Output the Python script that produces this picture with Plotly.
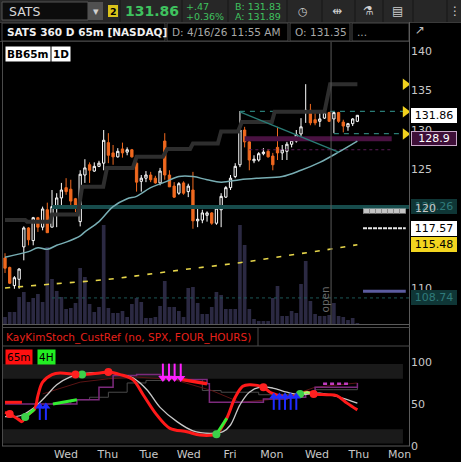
import plotly.graph_objects as go

W, H = 461, 462
def PX(x): return x / W
def PY(y): return 1 - y / H

# ---------------- data ----------------
bars = list(range(76))
opens = [113.8,112.6,110.3,111.1,115.2,117.6,116.0,118.9,117.7,119.9,
         117.7,120.1,121.4,122.7,122.5,121.3,118.4,124.3,125.6,124.8,
         125.4,125.8,128.4,127.1,126.6,127.6,127.2,127.5,125.8,123.5,
         123.9,124.3,123.9,123.3,128.6,124.3,122.9,122.0,123.3,122.2,
         122.4,118.5,118.6,119.2,119.5,118.2,119.9,121.5,122.7,124.1,
         125.6,130.0,128.5,126.1,126.2,127.0,127.3,126.7,127.8,127.1,
         127.3,128.2,128.6,129.5,132.2,132.5,131.3,131.1,131.5,132.2,
         131.4,132.2,131.0,130.4,130.8,131.1]
highs = [114.4,112.7,111.5,112.5,117.8,117.7,119.0,119.0,120.3,120.8,
         122.4,122.0,123.3,123.9,123.7,121.4,124.9,126.3,125.9,125.9,
         126.1,130.0,129.6,128.1,127.7,128.4,127.8,127.6,126.5,124.3,
         124.8,124.7,124.2,125.2,129.6,124.9,123.4,123.4,123.5,123.2,
         124.7,120.1,119.9,119.7,119.6,120.4,122.0,122.9,124.3,125.8,
         132.4,130.4,129.0,126.8,127.2,127.7,127.6,127.1,130.4,128.1,
         128.5,129.1,130.0,131.5,135.8,133.3,132.2,132.3,132.3,132.3,
         132.3,132.3,131.3,130.9,131.5,131.9]
lows = [111.9,110.5,109.9,109.9,113.5,115.4,115.4,117.1,117.3,117.0,
        117.7,117.7,120.1,121.8,120.4,119.6,117.8,123.3,123.3,124.7,
        125.3,124.9,125.8,125.6,126.5,126.5,126.8,126.5,122.2,122.2,
        123.4,123.4,123.2,123.0,123.7,122.8,121.4,121.8,121.8,121.5,
        117.5,117.7,118.2,118.4,118.0,118.0,117.7,121.4,122.4,123.9,
        125.3,127.8,124.9,125.8,126.0,126.8,126.5,124.9,126.2,126.2,
        126.2,127.8,128.4,129.1,130.9,130.6,130.6,130.4,131.4,131.0,
        129.6,130.9,129.7,129.9,130.5,131.0]
closes = [112.5,110.6,111.3,112.4,117.6,116.1,118.9,117.7,120.0,117.0,
          120.3,121.4,122.4,122.2,121.0,120.5,124.4,125.2,124.9,125.4,
          125.8,128.7,126.8,126.6,127.3,127.1,127.5,126.6,123.4,123.9,
          124.3,123.7,123.3,124.8,124.3,122.8,121.5,123.2,122.0,122.9,
          118.5,118.7,119.5,119.5,118.2,120.1,121.6,122.7,123.9,125.4,
          130.0,128.5,126.2,126.3,127.0,127.2,126.6,125.6,127.1,127.5,
          128.2,128.7,129.4,130.4,132.5,130.9,130.9,131.4,132.2,131.1,
          132.2,131.1,130.5,130.8,131.4,131.86]
volume_k = [70,120,120,270,320,220,260,300,220,770,
            450,330,270,150,160,210,560,470,200,120,
            170,990,160,110,110,130,70,200,260,220,
            60,60,70,180,430,170,170,130,70,360,
            370,210,100,100,170,320,290,150,150,150,
            990,790,150,50,30,30,30,260,380,80,
            80,130,110,400,630,230,100,80,80,90,
            210,80,70,40,60,10]

# daily step level (1D band)
step_x = [0,4.3,4.7,9.6,10,15.5,16.4,20.9,21.7,27.2,28,33.6,34.5,39.4,40,45.3,46,49.6,50.4,56.8,57.4,68,69.2,75]
step_y = [118.6,118.6,118.4,118.4,119.3,119.3,122.8,122.8,125.2,125.2,126.6,126.6,127.6,127.6,128.3,128.3,129.8,129.8,131.0,131.0,132.3,132.3,135.8,135.8]
# moving average
ma_x = [0,5,7,9,11,13,16,17,20,23,26,28,31,34,37,40,43,46,50,54,59,63,67,71,75]
ma_y = [113.9,114.6,115.1,114.9,115.4,115.8,116.6,117.1,118.4,120.3,121.3,121.6,122.7,123.4,124.1,124.1,123.7,123.4,123.7,123.9,124.1,124.9,125.9,127.2,128.6]
# long average (yellow dashed)
lma_x = [0,10,22,30,39,50,60,68,75]
lma_y = [110.0,110.5,111.1,111.7,112.4,113.2,114.1,114.8,115.48]
# trendline
trend_x = [50, 71]
trend_y = [132.3, 127.2]
# horizontal levels
lvl_teal = 120.26
lvl_teal2 = 108.74
lvl_res = 132.35
lvl_sup = 129.55
lvl_purple = 128.9
lvl_purple2 = 127.5
lvl_gray = 119.75
lvl_white = 117.57
lvl_blue = 109.6
lvl_yellow = 115.48
last_price = 131.86
alert_levels = [135.8, 132.3, 129.5]
open_bar = 69.4
price_ticks = [110, 115, 120, 125, 130, 135, 140]

# lower study
st_x = [0,1,2.8,3.6,4.3,6.3,7,8,10,11.7,15,16.4,20.2,22,24.5,27.2,29.4,32.3,35.1,38.7,41.5,44.3,45,47.2,49,50.6,52,55,56.4,58.5,60.6,62.8,64.3,65.7,68.5,70.6,72.8,75]
st_y = [40,38,32,29,34.5,44,60,76,85,87,85,85,87,88,85,79,61,37,21,17,13,13,14,33,58,71,73,70,64,60,58,62,64,62,61,60,51,43]
wh_x = [0,3.2,6,9,11,13.8,16.6,21.7,24.5,27.2,30.2,33,36.6,40,43.6,46.4,48,50,52,54.3,57,60,62.8,67,71.3,75]
wh_y = [35,36,45,61,73,82,86,87,85,81,67,46,29,18,15,17,25,49,64,70,69,64,61,63,58,51]
gr_x = [10,14,18,22,26,30,34,38,42,46,50,54,58,62,66,70,75]
gr_y = [50,55,58,64,75,78,79,79,66,64,64,61,61,64,67,67,70]
dr_x = [8,12,16,22,28,36,44,50,56,62,66,75]
dr_y = [62,69,76,80,82,79,66,52,55,62,70,75]
pu_x = [0,10,15.3,20,23,28,33,35.5,37.7,43,43.5,50,55,60,64,66,75]
pu_y = [50,50,55,70,84,85,83,81,79,74,52,52,56,58,62,70,75]
h4_red1 = ([0, 3.6], [52, 52])
h4_green = ([10.2, 12, 15.3], [50, 52, 55])
h4_red2 = ([37.7, 40, 43], [79, 77, 74])
h4_mag = ([67.7, 73], [74, 74])
g_seg = [([4.3, 6.3], [34.5, 44]), ([45, 47.2], [14, 33])]
lg_seg = ([62.8, 64.3, 65.7], [62, 64, 62])
green_dots = ([4.3, 16.4, 45, 62.8], [34.5, 85, 14, 62])
red_dots = ([1, 15, 22, 55, 65.7], [38, 85, 88, 70, 62])
up_arrows_a = [7.4, 8.7]
up_arrows_b = [57.2, 58.4, 59.6, 60.8, 62.0]
dn_arrows = [33.6, 34.9, 36.1, 37.4]
day_pos = [13.0, 21.9, 30.6, 39.1, 47.9, 56.8, 66.4, 75.3, 84.0]
day_lab = ["Wed", "Thu", "Tue", "Wed", "Fri", "Mon", "Wed", "Thu", "Mon"]

# ---------------- figure ----------------
XR = [-0.43, 86.2]
XEND = 86.2
FONT = "DejaVu Sans"
fig = go.Figure()

# volume (base axis)
fig.add_trace(go.Bar(x=bars, y=volume_k, marker=dict(color="#2b2942", line=dict(width=0)),
                     xaxis="x", yaxis="y", hoverinfo="skip"))

def line(x, y, color, width, dash="solid", ax=("x", "y2"), shape="linear", opacity=1):
    fig.add_trace(go.Scatter(x=x, y=y, mode="lines", xaxis=ax[0], yaxis=ax[1], opacity=opacity,
                             line=dict(color=color, width=width, dash=dash, shape=shape),
                             hoverinfo="skip"))

# levels
line([10, XEND], [lvl_teal, lvl_teal], "#174c4c", 4)
line([10, XEND], [lvl_teal2, lvl_teal2], "#1c5656", 1, "3px,3px")
line([51, 82.3], [lvl_purple, lvl_purple], "#4a1242", 5)
line([52, 82.3], [lvl_purple2, lvl_purple2], "#5a1a55", 1, "3px,3px")
line([50, 84.7], [lvl_res, lvl_res], "#2a7c76", 1.2, "5px,5px")
line([70, 84.7], [lvl_sup, lvl_sup], "#2a7c76", 1.2, "5px,5px")
line([76.2, 85.3], [lvl_gray, lvl_gray], "#c4c4c4", 5)
line([76.2, 85.3], [lvl_gray, lvl_gray], "#8a8a8a", 5, "1px,5px")
line([76.2, 85.3], [lvl_white, lvl_white], "#e8e8e8", 2, "4px,1px")
line([76.2, 85.3], [lvl_blue, lvl_blue], "#5c5ca0", 3)
# step / averages
line(step_x, step_y, "#2e2e2e", 4)
line(ma_x, ma_y, "#78aeb4", 1.5, shape="spline")
line(lma_x, lma_y, "#e6d54a", 1.6, "5px,8px", shape="spline")
line(trend_x, trend_y, "#2a7c76", 1.3)
# open marker
line([open_bar, open_bar], [105.44, 141.14], "#5a5a5a", 1)

# candles
fig.add_trace(go.Candlestick(x=bars, open=opens, high=highs, low=lows, close=closes,
                             xaxis="x", yaxis="y2", whiskerwidth=0,
                             increasing=dict(line=dict(color="#ffffff", width=1), fillcolor="#000000"),
                             decreasing=dict(line=dict(color="#f0691f", width=1), fillcolor="#f0691f"),
                             hoverinfo="skip"))
# alert triangles
fig.add_trace(go.Scatter(x=[85.2] * len(alert_levels), y=alert_levels, mode="markers", xaxis="x", yaxis="y2",
                         marker=dict(symbol="triangle-right", size=10, color="#f2d21e"), hoverinfo="skip"))

# lower study
LA = ("x2", "y3")
line(gr_x, gr_y, "#4a4a4a", 1, ax=LA, shape="hv")
line(dr_x, dr_y, "#5a1414", 1, ax=LA)
line(pu_x, pu_y, "#7c2a7c", 1.5, ax=LA, shape="hv")
line(h4_mag[0], h4_mag[1], "#c23cc2", 2.5, "4px,3px", ax=LA)
line(wh_x, wh_y, "#c8c8c8", 1.3, ax=LA, shape="spline")
line(h4_red1[0], h4_red1[1], "#ff1a1a", 3, ax=LA)
line(h4_green[0], h4_green[1], "#33ee33", 3, ax=LA)
line(h4_red2[0], h4_red2[1], "#ff1a1a", 3.5, ax=LA)
line(st_x, st_y, "#ff1a1a", 3, ax=LA, shape="spline")
for sx, sy in g_seg:
    line(sx, sy, "#33ee33", 3, ax=LA)
line(lg_seg[0], lg_seg[1], "#9cff6a", 2.5, ax=LA)
fig.add_trace(go.Scatter(x=green_dots[0], y=green_dots[1], mode="markers", xaxis="x2", yaxis="y3",
                         marker=dict(size=8, color="#3cd04a"), hoverinfo="skip"))
fig.add_trace(go.Scatter(x=red_dots[0], y=red_dots[1], mode="markers", xaxis="x2", yaxis="y3",
                         marker=dict(size=8, color="#ff2020"), hoverinfo="skip"))

def arrows(xs, tail, head, color, sym):
    sx, sy = [], []
    for a in xs:
        sx += [a, a, None]
        sy += [tail, head, None]
    fig.add_trace(go.Scatter(x=sx, y=sy, mode="lines", xaxis="x2", yaxis="y3",
                             line=dict(color=color, width=2), hoverinfo="skip"))
    fig.add_trace(go.Scatter(x=xs, y=[head] * len(xs), mode="markers", xaxis="x2", yaxis="y3",
                             marker=dict(symbol=sym, size=8, color=color), hoverinfo="skip"))

arrows(up_arrows_a, 31, 47, "#1f2cff", "triangle-up")
arrows(up_arrows_b, 43, 59, "#1f2cff", "triangle-up")
arrows(dn_arrows, 98, 81, "#ff20ff", "triangle-down")

# ---------------- layout ----------------
tickfont = dict(family=FONT, size=11, color="#c8c8c8")
shapes = []
def rect(x0, y0, x1, y1, fill=None, lc=None, lw=1, layer="below"):
    shapes.append(dict(type="rect", xref="paper", yref="paper", x0=PX(x0), x1=PX(x1), y0=PY(y0), y1=PY(y1),
                       fillcolor=fill or "rgba(0,0,0,0)", line=dict(color=lc or "rgba(0,0,0,0)", width=lw if lc else 0),
                       layer=layer))
def hline(x0, x1, y, c, w=1):
    shapes.append(dict(type="line", xref="paper", yref="paper", x0=PX(x0), x1=PX(x1), y0=PY(y), y1=PY(y),
                       line=dict(color=c, width=w), layer="above"))
def vline(x, y0, y1, c, w=1):
    shapes.append(dict(type="line", xref="paper", yref="paper", x0=PX(x), x1=PX(x), y0=PY(y0), y1=PY(y1),
                       line=dict(color=c, width=w), layer="above"))

# top bar
rect(0, 0, 461, 22.5, "#272727")
rect(2, 2, 88, 20, "#0c0c0c", "#555555")
rect(88, 2, 103, 20, "#505050")
rect(108, 5, 118, 17, "#d9c21a")
for sx in [120, 182, 228, 287, 322, 355, 383, 413, 447]:
    vline(sx, 0, 22, "#161616")
# second row
hline(0, 461, 22.5, "#3a3a3a")
for bx0, bx1 in [(2, 165), (167, 288), (290, 350), (352, 409)]:
    rect(bx0, 23, bx1, 41, None, "#4a4a4a")
hline(0, 410, 41.5, "#3a3a3a")
# panel borders
vline(2.5, 41, 446, "#4a4a4a")
vline(409.5, 22, 446, "#5a5a5a")
hline(2, 410, 324.5, "#5a5a5a")
hline(2, 410, 327.5, "#4a4a4a")
hline(2, 410, 346, "#4a4a4a")
hline(2, 410, 446, "#5a5a5a")
vline(258, 328, 346, "#4a4a4a")
# study bands
for b0, b1 in [(80, 97.5), (3, 20)]:
    shapes.append(dict(type="rect", xref="x2", yref="y3", x0=-0.43, x1=84.7, y0=b0, y1=b1,
                       fillcolor="#1a1a1a", line=dict(width=0), layer="below"))

ann = []
def txt(x, y, s, size=11, color="#d0d0d0", anchor="left", **kw):
    d = dict(xref="paper", yref="paper", x=PX(x), y=PY(y), text=s, showarrow=False,
             xanchor=anchor, yanchor="middle", font=dict(family=FONT, size=size, color=color))
    d.update(kw)
    ann.append(d)

txt(7, 11, "SATS", 12.5, "#d8d8d8")
txt(95.5, 11, "▾", 11, "#d0d0d0", "center")
txt(113, 11, "<b>2</b>", 9.5, "#000000", "center")
txt(123, 11.5, "<b>131.86</b>", 14, "#3fc25f")
txt(184, 6.5, "+.47", 9.5, "#3fc25f")
txt(184, 16.5, "+0.36%", 9.5, "#3fc25f")
txt(233, 6.5, "B: 131.83", 9.5, "#3fc25f")
txt(233, 16.5, "A: 131.89", 9.5, "#3fc25f")
txt(303, 11, "◷", 11, "#cfcfcf", "center")
txt(337, 11, "⇹", 12, "#cfcfcf", "center")
txt(368, 11, "⚗", 12, "#cfcfcf", "center")
txt(397, 11, "▤", 12, "#cfcfcf", "center")
txt(455, 11, "⋮", 12, "#cfcfcf", "center")
txt(5, 32, "<b>SATS 360 D 65m [NASDAQ]</b>", 10.5, "#f0f0f0")
txt(170, 32, "D: 4/16/26 11:55 AM", 10.5, "#a8a8a8")
txt(293, 32, "O: 131.35", 10.5, "#a8a8a8")
txt(355, 32, "...", 10.5, "#a8a8a8")
txt(420, 30, "↗", 12, "#bdbdbd", "center")
txt(5, 53.5, "<b>BB65m</b>", 10.5, "#000000", bgcolor="#ffffff", borderpad=1)
txt(51, 53.5, "<b>1D</b>", 10.5, "#000000", bgcolor="#ffffff", borderpad=1)
txt(4, 337, "KayKimStoch_CustRef (no, SPX, FOUR_HOURS)", 10.5, "#e8201a")
txt(5, 357, "65m", 10.5, "#000000", bgcolor="#ff1010", borderpad=1)
txt(37, 357, "4H", 10.5, "#000000", bgcolor="#22ee22", borderpad=1)

def plabel(p, s, bg, fg, border=None):
    ann.append(dict(xref="paper", yref="y2", x=PX(411), y=p, text=s, showarrow=False,
                    xanchor="left", yanchor="middle", width=44, height=13, align="center",
                    bgcolor=bg, bordercolor=border or bg, borderwidth=1, borderpad=0,
                    font=dict(family=FONT, size=11, color=fg)))

plabel(last_price, "131.86", "#ffffff", "#000000")
plabel(lvl_purple, "128.9", "#3e0f38", "#ffffff", "#c8a8c8")
plabel(lvl_teal, "120.26", "#0f3636", "#2f7a7a")
ann.append(dict(xref="paper", yref="y2", x=PX(413), y=120, text="120", showarrow=False,
                xanchor="left", yanchor="middle", font=tickfont))
plabel(lvl_white, "117.57", "#ffffff", "#000000")
plabel(lvl_yellow, "115.48", "#f2d51f", "#000000")
plabel(lvl_teal2, "108.74", "#0f3636", "#2f7a7a")
ann.append(dict(xref="x", yref="y2", x=open_bar - 1.2, y=108.6, text="open", showarrow=False,
                textangle=-90, font=dict(family=FONT, size=10.5, color="#6a6a6a")))

xdom = [PX(3), PX(410)]
fig.update_layout(
    width=W, height=H, margin=dict(l=0, r=0, t=0, b=0, autoexpand=False),
    paper_bgcolor="#000000", plot_bgcolor="#000000",
    showlegend=False, bargap=0.22,
    xaxis=dict(domain=xdom, range=XR, anchor="y", showticklabels=False, showgrid=False, zeroline=False,
               rangeslider=dict(visible=False), fixedrange=True, automargin=False),
    yaxis=dict(domain=[PY(324), PY(42)], range=[0, 2820], showticklabels=False, showgrid=False, zeroline=False,
               automargin=False),
    yaxis2=dict(overlaying="y", range=[105.44, 141.14], side="right", anchor="x", tickvals=price_ticks,
                ticktext=[str(t) if t != 120 else " " for t in price_ticks], automargin=False,
                tickfont=tickfont, showgrid=False, zeroline=False, ticks=""),
    xaxis2=dict(domain=xdom, range=XR, anchor="y3", tickvals=day_pos, ticktext=day_lab, tickfont=tickfont,
                showgrid=False, zeroline=False, ticks="", automargin=False),
    yaxis3=dict(domain=[PY(446), PY(346)], range=[0, 119], side="right", anchor="x2", tickvals=[0, 50, 100],
                tickfont=tickfont, showgrid=False, zeroline=False, ticks="", automargin=False),
    shapes=shapes, annotations=ann,
)
page_css = ("document.documentElement.style.margin='0';document.body.style.margin='0';"
            "document.documentElement.style.overflow='hidden';document.body.style.overflow='hidden';"
            "document.body.style.background='#000';")
fig.write_html("out.html", post_script=page_css)
